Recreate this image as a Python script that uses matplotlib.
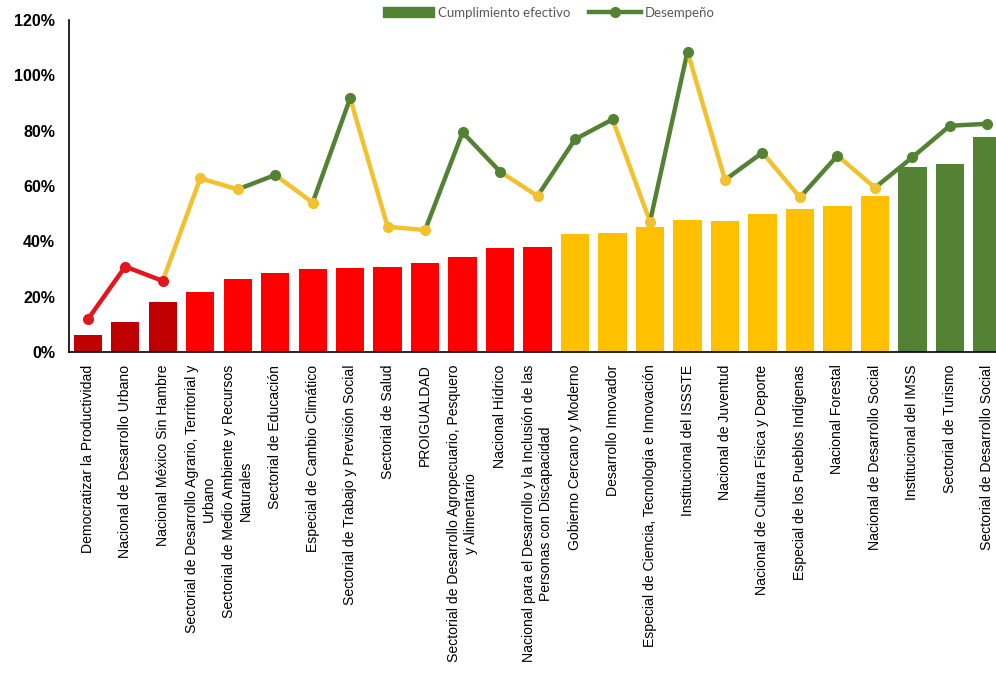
import matplotlib
matplotlib.use("Agg")
import matplotlib.pyplot as plt
from matplotlib.lines import Line2D
from matplotlib.patches import Patch
from matplotlib.ticker import FuncFormatter

programas = [
    "Democratizar la Productividad",
    "Nacional de Desarrollo Urbano",
    "Nacional México Sin Hambre",
    "Sectorial de Desarrollo Agrario, Territorial y\nUrbano",
    "Sectorial de Medio Ambiente y Recursos\nNaturales",
    "Sectorial de Educación",
    "Especial de Cambio Climático",
    "Sectorial de Trabajo y Previsión Social",
    "Sectorial de Salud",
    "PROIGUALDAD",
    "Sectorial de Desarrollo Agropecuario, Pesquero\ny Alimentario",
    "Nacional Hídrico",
    "Nacional para el Desarrollo y la Inclusión de las\nPersonas con Discapacidad",
    "Gobierno Cercano y Moderno",
    "Desarrollo Innovador",
    "Especial de Ciencia, Tecnología e Innovación",
    "Institucional del ISSSTE",
    "Nacional de Juventud",
    "Nacional de Cultura Física y Deporte",
    "Especial de los Pueblos Indígenas",
    "Nacional Forestal",
    "Nacional de Desarrollo Social",
    "Institucional del IMSS",
    "Sectorial de Turismo",
    "Sectorial de Desarrollo Social",
]

# porcentajes
cumplimiento = [6.1, 10.7, 18.2, 21.6, 26.3, 28.7, 29.9, 30.5, 30.9, 32.1, 34.5, 37.5, 37.9,
                42.6, 43.2, 45.3, 47.7, 47.5, 49.9, 51.7, 52.9, 56.4, 67.0, 68.0, 77.9]
desempeno = [11.8, 30.9, 25.7, 62.8, 58.8, 64.0, 54.0, 91.7, 45.3, 44.1, 79.4, 65.2, 56.4,
             76.9, 84.1, 47.1, 108.6, 62.2, 72.1, 55.9, 71.0, 59.4, 70.4, 81.8, 82.5]

VERDE = "#548235"
AMARILLO = "#FFC000"
ROJO = "#FF0000"
ROJO_OSC = "#C00000"


def color_barra(v):
    if v < 20:
        return ROJO_OSC
    if v < 40:
        return ROJO
    if v < 60:
        return AMARILLO
    return VERDE


def color_punto(v):
    if v < 40:
        return "#E3161E"
    if v < 63.5:
        return "#F2C12E"
    return VERDE


plt.rcParams['font.family'] = ['Liberation Sans', 'DejaVu Sans']

fig = plt.figure(figsize=(9.96, 6.81), dpi=100)
ax = fig.add_axes([0.0693, 0.483, 0.9307, 0.4876])

x = list(range(len(programas)))
ax.bar(x, [v / 100 for v in cumplimiento], width=0.755,
       color=[color_barra(v) for v in cumplimiento], zorder=2)

d = [v / 100 for v in desempeno]
for i in range(1, len(d)):
    ax.plot([i - 1, i], [d[i - 1], d[i]], color=color_punto(desempeno[i]),
            lw=3.2, solid_capstyle='round', zorder=3)
for i in x:
    ax.plot(i, d[i], 'o', ms=7, color=color_punto(desempeno[i]), zorder=4)

ax.set_xlim(-0.5, 24.23)
ax.set_ylim(0, 1.2)
ax.set_yticks([0, 0.2, 0.4, 0.6, 0.8, 1.0, 1.2])
ax.yaxis.set_major_formatter(FuncFormatter(lambda v, p: f"{v*100:.0f}%"))
for t in ax.get_yticklabels():
    t.set_fontweight('bold')
    t.set_fontsize(11.5)
ax.tick_params(axis='y', length=0, pad=10)

ax.set_xticks(x)
ax.set_xticklabels(programas, rotation=90, fontsize=10.1, ha='center', va='top',
                   multialignment='center', linespacing=1.25)
ax.tick_params(axis='x', length=0, pad=9)

for s in ['top', 'right']:
    ax.spines[s].set_visible(False)
ax.spines['left'].set_color('black')
ax.spines['bottom'].set_color('black')
ax.spines['left'].set_linewidth(1.2)
ax.spines['bottom'].set_linewidth(1.2)

handles = [Patch(facecolor=VERDE, edgecolor=VERDE),
           Line2D([], [], color=VERDE, lw=3.2, marker='o', ms=7)]
fig.legend(handles, ["Cumplimiento efectivo", "Desempeño"], loc='center',
           bbox_to_anchor=(0.551, 0.981), ncol=2, frameon=False,
           prop={'family': 'Lato', 'size': 9.5}, labelcolor='#595959',
           handlelength=3.9, handleheight=0.8, handletextpad=0.3, columnspacing=1.4)

fig.savefig("out.png", dpi=100)
